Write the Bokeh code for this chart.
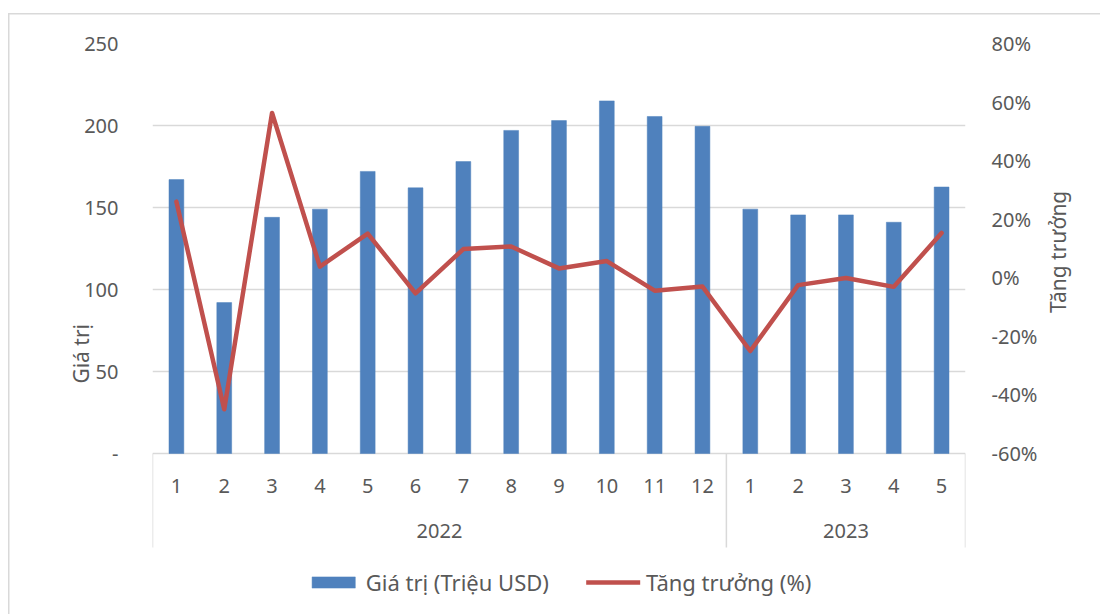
import math
from bokeh.plotting import figure
from bokeh.models import (FactorRange, Range1d, LinearAxis, FixedTicker, Legend,
                          LegendItem, ColumnDataSource, PrintfTickFormatter)
from bokeh.core.properties import value
from bokeh.embed import file_html
from bokeh.resources import INLINE

# ---------------- data ----------------
years = ["2022", "2023"]
months_2022 = ["1", "2", "3", "4", "5", "6", "7", "8", "9", "10", "11", "12"]
months_2023 = ["1", "2", "3", "4", "5"]
value_2022 = [167, 92, 144, 149, 172, 162, 178, 197, 203, 215, 205.5, 199.5]
value_2023 = [149, 145.5, 145.5, 141, 162.5]
growth_2022 = [26.0, -44.9, 56.3, 3.8, 15.1, -5.3, 9.8, 10.7, 3.2, 5.7, -4.4, -3.0]
growth_2023 = [-25.0, -2.5, -0.1, -3.1, 15.3]
left_ticks = [0, 50, 100, 150, 200, 250]
right_ticks = [-60, -40, -20, 0, 20, 40, 60, 80]
bar_label = "Giá trị (Triệu USD)"
line_label = "Tăng trưởng (%)"
left_title = "Giá trị"
right_title = "Tăng trưởng"

# ---------------- build ----------------
factors = [(years[0], m) for m in months_2022] + [(years[1], m) for m in months_2023]
values = value_2022 + value_2023
growth = growth_2022 + growth_2023

FONT = "Noto Sans"
TXT = "#595959"
GRID = "#d9d9d9"
NBSP = "\u00a0"

# pixel layout (frame: 152..965 horizontally, 43..604 vertically; zero line at 453)
W, H = 1100, 614
F_LEFT, F_RIGHT, F_TOP, F_BOT, ZERO_Y = 152, 965, 43, 604, 453
band = 94.0        # category band below zero line
px_left = (ZERO_Y - F_TOP) / left_ticks[-1]
px_right = (ZERO_Y - F_TOP) / (right_ticks[-1] - right_ticks[0])
left_start = -(F_BOT - ZERO_Y) / px_left
right_start = right_ticks[0] - (F_BOT - ZERO_Y) / px_right
band_bottom = -band / px_left

p = figure(
    x_range=FactorRange(*factors, factor_padding=0, group_padding=0, range_padding=0),
    y_range=Range1d(left_start, left_ticks[-1]),
    width=W, height=H,
    min_border_left=F_LEFT, min_border_right=W - F_RIGHT,
    min_border_top=F_TOP, min_border_bottom=H - F_BOT,
    output_backend="svg", toolbar_location=None,
)
p.extra_y_ranges = {"pct": Range1d(right_start, right_ticks[-1])}
p.outline_line_color = None
p.background_fill_alpha = 0
p.border_fill_alpha = 0
p.styles = {
    "background-color": "white",
    "background-image": "linear-gradient(#d9d9d9,#d9d9d9), linear-gradient(#d9d9d9,#d9d9d9)",
    "background-size": "1.5px 100%, 100% 1.5px",
    "background-position": "8px 13px, 8px 13px",
    "background-repeat": "no-repeat",
}

src = ColumnDataSource(dict(x=factors, v=values, g=growth))
bars = p.vbar(x="x", top="v", width=0.31, source=src, fill_color="#4f81bd",
              line_color="#4f81bd", line_width=0.5)
line = p.line(x="x", y="g", source=src, y_range_name="pct", line_color="#c0504d",
              line_width=4.5, line_join="round", line_cap="round")

# axes
p.xaxis.visible = False
p.xgrid.visible = False
yax = p.yaxis[0]
yax.ticker = FixedTicker(ticks=left_ticks)
yax.major_label_overrides = {0: "-"}
yax.axis_line_color = None
yax.major_tick_line_color = None
yax.minor_tick_line_color = None
yax.major_label_standoff = 28
yax.major_label_text_font = FONT
yax.major_label_text_font_size = "20px"
yax.major_label_text_color = TXT
# title starts at the frame's vertical centre (padded up to sit beside the value area)
yax.axis_label = NBSP * 8 + left_title
yax.axis_label_orientation = math.pi / 2
yax.axis_label_text_align = "right"
yax.axis_label_text_font = FONT
yax.axis_label_text_font_size = "21px"
yax.axis_label_text_font_style = "normal"
yax.axis_label_text_color = TXT
yax.axis_label_standoff = 0

p.ygrid.ticker = FixedTicker(ticks=left_ticks)
p.ygrid.grid_line_color = GRID
p.ygrid.grid_line_width = 1.5

rax = LinearAxis(y_range_name="pct", ticker=FixedTicker(ticks=right_ticks),
                 formatter=PrintfTickFormatter(format="%d%%"))
rax.axis_line_color = None
rax.major_tick_line_color = None
rax.minor_tick_line_color = None
rax.major_label_standoff = 20
rax.major_label_text_font = FONT
rax.major_label_text_font_size = "20px"
rax.major_label_text_color = TXT
rax.axis_label = NBSP * 2 + right_title
rax.axis_label_orientation = math.pi / 2
rax.axis_label_text_align = "left"
rax.axis_label_text_font = FONT
rax.axis_label_text_font_size = "21px"
rax.axis_label_text_font_style = "normal"
rax.axis_label_text_color = TXT
rax.axis_label_standoff = 18
p.add_layout(rax, "right")

# category band (month labels, year labels, separators)
month_y = -32 / px_left
year_y = -77 / px_left
p.text(x=factors, y=[month_y] * len(factors), text=[f[1] for f in factors],
       text_font=value(FONT), text_font_size="20px", text_color=TXT,
       text_align="center", text_baseline="middle")
p.text(x=years, y=[year_y] * len(years), text=years,
       text_font=value(FONT), text_font_size="20px", text_color=TXT,
       text_align="center", text_baseline="middle")
n1, n2 = len(months_2022), len(months_2023)
sep_x = [0, n1, n1 + n2]
p.segment(x0=sep_x, y0=[0] * 3, x1=sep_x, y1=[band_bottom] * 3,
          line_color=GRID, line_width=1.5)

legend = Legend(items=[LegendItem(label=bar_label, renderers=[bars]),
                       LegendItem(label=line_label, renderers=[line])],
                orientation="horizontal", location="bottom_center",
                border_line_color=None, background_fill_alpha=0,
                glyph_width=54, glyph_height=14, spacing=37, label_standoff=6,
                label_text_font=FONT, label_text_font_size="22px",
                label_text_color=TXT, margin=7, padding=3)
p.add_layout(legend)

open("out.html", "w").write(file_html(p, INLINE))
